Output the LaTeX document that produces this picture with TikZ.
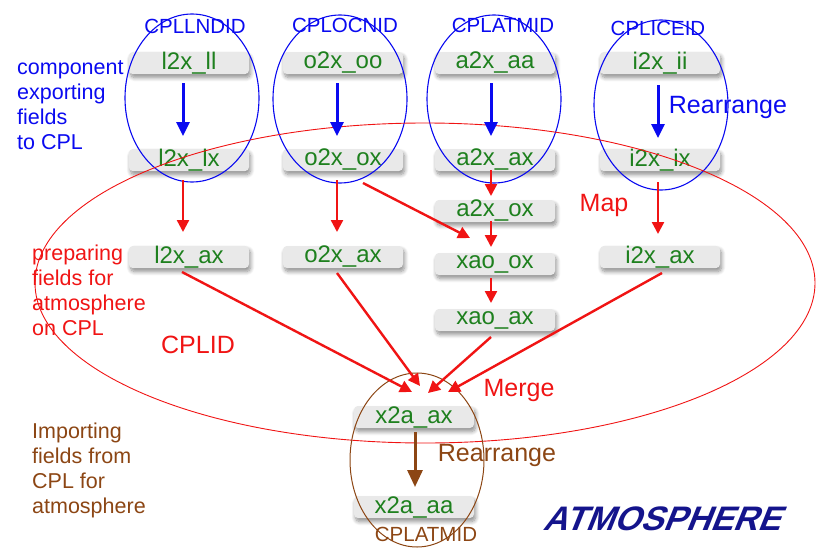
\documentclass[tikz,border=0pt]{standalone}
\usepackage{fontspec}
\setmainfont{Liberation Sans}
\newfontfamily\atmfont[FakeSlant=0.4,FakeStretch=1.0]{Liberation Sans}
\usetikzlibrary{arrows.meta,shadows.blur,calc}
\definecolor{cblue}{RGB}{10,10,240}
\definecolor{cred}{RGB}{240,20,20}
\definecolor{cgreen}{RGB}{30,128,30}
\definecolor{cbrown}{RGB}{140,70,20}
\definecolor{cnavy}{RGB}{20,20,140}
\begin{document}
\begin{tikzpicture}[x=1pt,y=-1pt,
  field/.style={fill=gray!17, rounded corners=4pt, minimum width=120pt, minimum height=22pt,
    inner sep=0pt, text=cgreen, font=\fontsize{24}{24}\selectfont,
    blur shadow={shadow xshift=1.5pt, shadow yshift=-3.5pt, shadow blur steps=8, shadow blur radius=4pt, shadow opacity=45}},
  idlabel/.style={inner sep=0pt, font=\fontsize{20.5}{22}\selectfont},
  sidetext/.style={inner sep=0pt, align=left, anchor=west, font=\fontsize{21.5}{25}\selectfont},
  biglabel/.style={inner sep=0pt, font=\fontsize{25}{26}\selectfont},
  barrow/.style={cblue, line width=3pt, -{Triangle[width=13pt,length=14pt]}},
  rarrow/.style={cred, line width=2.4pt, -{Triangle[width=12pt,length=12pt]}},
  brarrow/.style={cbrown, line width=3pt, -{Triangle[width=15pt,length=17pt]}},
  ring/.style={line width=1.1pt}
]
\useasboundingbox (0,0) rectangle (824,554);

% field boxes
\node[field] (ll) at (189,63) {l2x\_ll};
\node[field] (lx) at (189,160) {l2x\_lx};
\node[field] (lax) at (189,257) {l2x\_ax};
\node[field] (oo) at (343,63) {o2x\_oo};
\node[field] (ox) at (343,160) {o2x\_ox};
\node[field] (oax) at (343,257) {o2x\_ax};
\node[field] (aa) at (495,63) {a2x\_aa};
\node[field] (aax) at (495,160) {a2x\_ax};
\node[field] (aox) at (495,211) {a2x\_ox};
\node[field] (xox) at (495,264) {xao\_ox};
\node[field] (xax) at (495,320) {xao\_ax};
\node[field] (ii) at (660,63) {i2x\_ii};
\node[field] (ix) at (660,160) {i2x\_ix};
\node[field] (iax) at (660,257) {i2x\_ax};
\node[field] (x2aax) at (414,417) {x2a\_ax};
\node[field] (x2aaa) at (414,507) {x2a\_aa};

% ellipses
\draw[cblue, ring] (192,98) ellipse [x radius=67, y radius=84];
\draw[cblue, ring] (340,99) ellipse [x radius=67, y radius=84];
\draw[cblue, ring] (494,99) ellipse [x radius=67, y radius=84];
\draw[cblue, ring] (661,105) ellipse [x radius=67, y radius=85];
\draw[cred, line width=0.9pt] (425,283) ellipse [x radius=390, y radius=160];
\draw[cbrown, line width=1pt] (417,460) ellipse [x radius=67, y radius=87];

% ID labels
\node[idlabel, text=cblue] (idl) at (195,26) {CPLLNDID};
\node[idlabel, text=cblue] (ido) at (345,25) {CPLOCNID};
\node[idlabel, text=cblue] (ida) at (503,25) {CPLATMID};
\node[idlabel, text=cblue] (idi) at (658,28) {CPLICEID};
\node[idlabel, text=cbrown] (idatm) at (426,534) {CPLATMID};

% side texts
\node[sidetext, text=cblue] (t1) at (17,105) {component\\exporting\\fields\\to CPL};
\node[sidetext, text=cred] (t2) at (32,290) {preparing\\fields for\\atmosphere\\on CPL};
\node[sidetext, text=cbrown] (t3) at (32,470) {Importing\\fields from\\CPL for\\atmosphere};

% labels
\node[biglabel, text=cblue] (rearr) at (728,107) {Rearrange};
\node[biglabel, text=cred] (map) at (604,205) {Map};
\node[biglabel, text=cred] (cplid) at (198,345) {CPLID};
\node[biglabel, text=cred] (merge) at (519,390) {Merge};
\node[biglabel, text=cbrown] (rearr2) at (497,455) {Rearrange};
\node[inner sep=0pt, text=cnavy, font=\atmfont\bfseries\fontsize{34}{36}\selectfont] (atm) at (661,519) {ATMOSPHERE};

% blue arrows
\draw[barrow] ($(ll)+(-6,20)$) -- ($(lx)+(-6,-24)$);
\draw[barrow] ($(oo)+(-6,20)$) -- ($(ox)+(-6,-24)$);
\draw[barrow] ($(aa)+(-4,20)$) -- ($(aax)+(-4,-24)$);
\draw[barrow] ($(ii)+(-2,22)$) -- ($(ix)+(-2,-22)$);

% red arrows
\draw[rarrow] ($(lx)+(-6,20)$) -- ($(lax)+(-6,-25)$);
\draw[rarrow] ($(ox)+(-6,20)$) -- ($(oax)+(-6,-25)$);
\draw[rarrow] ($(aax)+(-4,10)$) -- ($(aox)+(-4,-15)$);
\draw[rarrow] ($(aox)+(-4,10)$) -- ($(xox)+(-4,-17)$);
\draw[rarrow] ($(xox)+(-4,14)$) -- ($(xax)+(-4,-17)$);
\draw[rarrow] ($(ix)+(-2,22)$) -- ($(iax)+(-2,-23)$);
\draw[rarrow] ($(ox)+(20,23)$) -- ($(xox)+(-25,-26)$);

% merge arrows
\draw[rarrow] ($(lax)+(-7,15)$) -- ($(x2aax)+(-2,-25)$);
\draw[rarrow] ($(oax)+(-6,16)$) -- ($(x2aax)+(6,-31)$);
\draw[rarrow] ($(xax)+(-4,17)$) -- ($(x2aax)+(14,-24)$);
\draw[rarrow] ($(iax)+(2,16)$) -- ($(x2aax)+(34,-25)$);

% brown arrow
\draw[brarrow] ($(x2aax)+(1,15)$) -- ($(x2aaa)+(1,-20)$);
\end{tikzpicture}
\end{document}
